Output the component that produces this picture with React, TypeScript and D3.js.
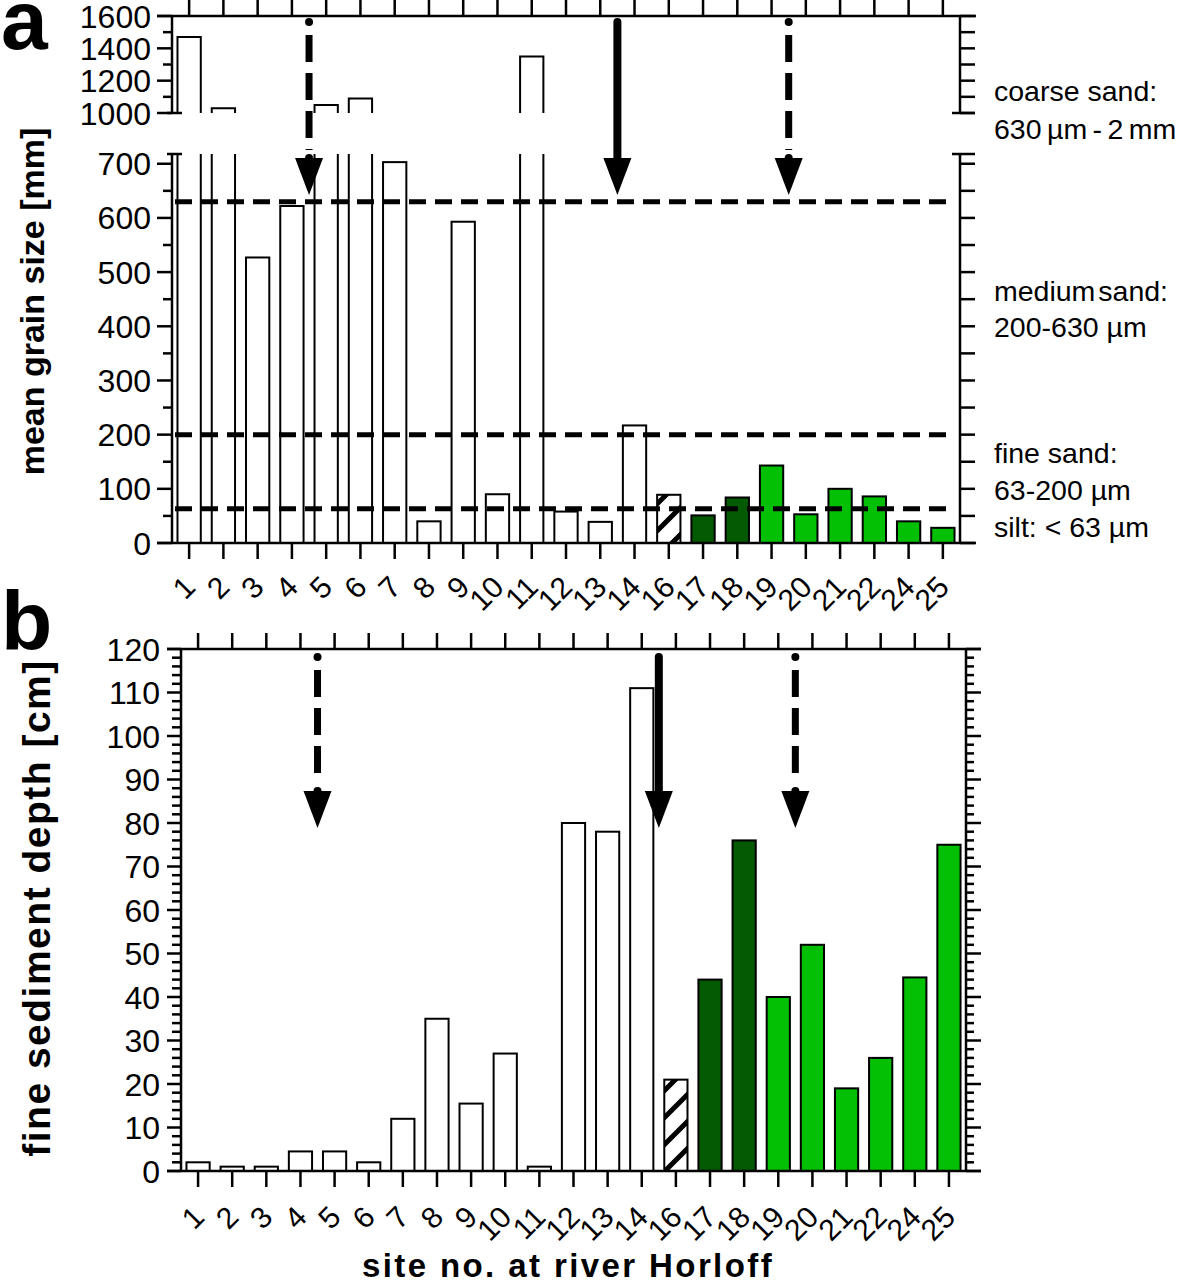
import React from "react";
import * as d3 from "d3";

// ---------------- data ----------------
const sites = ["1","2","3","4","5","6","7","8","9","10","11","12","13","14","16","17","18","19","20","21","22","24","25"];
const grainSize = [1470,1030,527,622,1050,1090,703,40,593,90,1350,58,39,217,89,51,84,143,53,100,86,40,28];
const sedimentDepth = [2,1,1,4.5,4.5,2,12,35,15.5,27,1,80,78,111,21,44,76,40,52,19,26,44.5,75];
// w = white, h = hatched, d = dark green, g = green
const siteClass = ["w","w","w","w","w","w","w","w","w","w","w","w","w","w","h","d","d","g","g","g","g","g","g"];
const classFill: Record<string,string> = { w: "#ffffff", h: "url(#hatch)", d: "#035a03", g: "#04c004" };
const grainThresholds = [630, 200, 63];
const grainClassLabels = [
  ["coarse sand:", "630 µm - 2 mm"],
  ["medium sand:", "200-630 µm"],
  ["fine sand:", "63-200 µm", "silt: < 63 µm"],
];
const lowerMajorTicks = [0,100,200,300,400,500,600,700];
const upperMajorTicks = [1000,1200,1400,1600];
const depthMajorTicks = [0,10,20,30,40,50,60,70,80,90,100,110,120];
const arrowsA = [
  { after: "4", style: "dashdot" },
  { after: "13", style: "solid" },
  { after: "19", style: "dashdot" },
];
const arrowsB = [
  { after: "4", style: "dashdot" },
  { after: "14", style: "solid" },
  { after: "19", style: "dashdot" },
];

const FONT = "'Liberation Sans', Arial, sans-serif";
const SW = 2.5;

function Arrow({ x, y0, tip, style }: { x: number; y0: number; tip: number; style: string }) {
  const headH = 37, headW = 14;
  const headTop = tip - headH;
  return (
    <g>
      {style === "solid" ? (
        <line x1={x} x2={x} y1={y0} y2={headTop + 5} stroke="#000" strokeWidth={8} strokeLinecap="round" />
      ) : (
        <g>
          <circle cx={x} cy={y0} r={4} fill="#000" />
          <line x1={x} x2={x} y1={y0 + 13} y2={headTop - 8} stroke="#000" strokeWidth={7} strokeDasharray="27 11" />
          <circle cx={x} cy={headTop} r={4} fill="#000" />
        </g>
      )}
      <path d={`M${x - headW},${headTop} L${x + headW},${headTop} L${x},${tip} Z`} fill="#000" />
    </g>
  );
}

function xLabel(x: number, y: number, text: string, key: string) {
  return (
    <text key={key} x={0} y={0} transform={`translate(${x},${y}) rotate(-45)`} textAnchor="end"
      fontFamily={FONT} fontSize={30} fill="#000">{text}</text>
  );
}

export default function App() {
  // ---------- panel a ----------
  const aL = 172, aR = 960, aT = 16, aB = 543;
  const xA = d3.scaleBand<string>().domain(sites).range([aL, aR]).paddingInner(0.32).paddingOuter(0.16);
  const yLow = d3.scaleLinear().domain([0, 718]).range([aB, 154]);
  const yUp = d3.scaleLinear().domain([1000, 1600]).range([113, aT]);
  const lowMax = 718;
  const bwA = xA.bandwidth();

  // ---------- panel b ----------
  const bL = 181, bR = 966, bT = 649, bB = 1171;
  const xB = d3.scaleBand<string>().domain(sites).range([bL, bR]).paddingInner(0.32).paddingOuter(0.16);
  const yB = d3.scaleLinear().domain([0, 120]).range([bB, bT]);
  const bwB = xB.bandwidth();

  const lowMinor = d3.range(50, 700, 100);
  const lowRight = d3.range(0, 701, 50);
  const upMinor = [1100, 1300, 1500];
  const upRight = d3.range(1000, 1601, 100);
  const depthMinor = d3.range(0, 121, 2).filter((v) => v % 10 !== 0);

  const midAfter = (sc: d3.ScaleBand<string>, s: string) => {
    const i = sites.indexOf(s);
    return ((sc(sites[i])! + sc(sites[i + 1])!) / 2) + sc.bandwidth() / 2;
  };

  return (
    <svg width={1180} height={1284} style={{ display: "block", position: "absolute", left: 0, top: 0 }}
      xmlns="http://www.w3.org/2000/svg">
      <defs>
        <pattern id="hatch" patternUnits="userSpaceOnUse" width={27} height={27}>
          <rect width={27} height={27} fill="#fff" />
          <path d="M-7,7 L7,-7 M0,27 L27,0 M20,34 L34,20" stroke="#000" strokeWidth={5} />
        </pattern>
      </defs>
      <rect width={1180} height={1284} fill="#fff" />

      {/* ===================== PANEL A ===================== */}
      <text x={1} y={49} fontFamily={FONT} fontWeight="bold" fontSize={84} fill="#000">a</text>

      {/* bars */}
      {sites.map((s, i) => {
        const v = grainSize[i];
        const x0 = xA(s)!, x1 = x0 + bwA;
        const fill = classFill[siteClass[i]];
        if (v <= lowMax) {
          return (
            <rect key={"ba" + s} x={x0} y={yLow(v)} width={bwA} height={yLow(0) - yLow(v)}
              fill={fill} stroke="#000" strokeWidth={2} />
          );
        }
        return (
          <g key={"ba" + s}>
            <path d={`M${x0},${yLow(0)} L${x0},${yLow(lowMax)} M${x1},${yLow(lowMax)} L${x1},${yLow(0)}`}
              fill="none" stroke="#000" strokeWidth={2} />
            <path d={`M${x0},${yUp(1000)} L${x0},${yUp(v)} L${x1},${yUp(v)} L${x1},${yUp(1000)}`}
              fill="#fff" stroke="#000" strokeWidth={2} />
          </g>
        );
      })}

      {/* threshold lines */}
      {grainThresholds.map((t) => (
        <line key={"th" + t} x1={aL + 3} x2={aR - 8} y1={yLow(t)} y2={yLow(t)} stroke="#000"
          strokeWidth={5} strokeDasharray="17 9" />
      ))}

      {/* axes a */}
      <g stroke="#000" strokeWidth={SW} fill="none">
        <line x1={aL - 15} x2={aR + 16} y1={aT} y2={aT} />
        <line x1={aL - 15} x2={aR + 16} y1={aB} y2={aB} />
        <line x1={aL} x2={aL} y1={aT} y2={yUp(1000)} />
        <line x1={aL} x2={aL} y1={yLow(lowMax)} y2={aB} />
        <line x1={aL - 5} x2={aL + 10} y1={yUp(1000)} y2={yUp(1000)} />
        <line x1={aL - 5} x2={aL + 10} y1={yLow(lowMax)} y2={yLow(lowMax)} />
        {upperMajorTicks.map((t) => <line key={"ulm" + t} x1={aL - 15} x2={aL} y1={yUp(t)} y2={yUp(t)} />)}
        {upMinor.map((t) => <line key={"ulmi" + t} x1={aL - 9} x2={aL} y1={yUp(t)} y2={yUp(t)} />)}
        {lowerMajorTicks.map((t) => <line key={"llm" + t} x1={aL - 15} x2={aL} y1={yLow(t)} y2={yLow(t)} />)}
        {lowMinor.map((t) => <line key={"llmi" + t} x1={aL - 9} x2={aL} y1={yLow(t)} y2={yLow(t)} />)}
        <line x1={aR} x2={aR} y1={aT} y2={yUp(1000)} />
        <line x1={aR} x2={aR} y1={yLow(lowMax)} y2={aB} />
        <line x1={aR - 8} x2={aR + 15} y1={yUp(1000)} y2={yUp(1000)} />
        <line x1={aR - 8} x2={aR + 15} y1={yLow(lowMax)} y2={yLow(lowMax)} />
        {upRight.map((t) => <line key={"ur" + t} x1={aR} x2={aR + 15} y1={yUp(t)} y2={yUp(t)} />)}
        {lowRight.map((t) => <line key={"lr" + t} x1={aR} x2={aR + 15} y1={yLow(t)} y2={yLow(t)} />)}
        {sites.map((s) => {
          const c = xA(s)! + bwA / 2;
          return (
            <g key={"tka" + s}>
              <line x1={c} x2={c} y1={aT} y2={0} />
              <line x1={c} x2={c} y1={aB} y2={aB + 16} />
            </g>
          );
        })}
      </g>

      {/* tick labels a */}
      <g fontFamily={FONT} fontSize={32} fill="#000" textAnchor="end">
        {upperMajorTicks.map((t) => <text key={"ulab" + t} x={aL - 21} y={yUp(t)} dy="0.36em">{t}</text>)}
        {lowerMajorTicks.map((t) => <text key={"llab" + t} x={aL - 21} y={yLow(t)} dy="0.36em">{t}</text>)}
      </g>
      {sites.map((s) => xLabel(xA(s)! + bwA / 2 + 8, aB + 46, s, "xla" + s))}

      <text transform={`translate(44,${(yLow(0) + yUp(1600)) / 2 + 22}) rotate(-90)`} textAnchor="middle"
        fontFamily={FONT} fontWeight="bold" fontSize={34} fill="#000">mean grain size [mm]</text>

      {/* class labels right */}
      <g fontFamily={FONT} fontSize={28.5} fill="#000">
        <text x={994} y={101}>{grainClassLabels[0][0]}</text>
        <text x={994} y={139} wordSpacing={-2.5}>{grainClassLabels[0][1]}</text>
        <text x={994} y={301} wordSpacing={-5}>{grainClassLabels[1][0]}</text>
        <text x={994} y={337}>{grainClassLabels[1][1]}</text>
        <text x={994} y={463}>{grainClassLabels[2][0]}</text>
        <text x={994} y={500}>{grainClassLabels[2][1]}</text>
        <text x={994} y={537}>{grainClassLabels[2][2]}</text>
      </g>

      {arrowsA.map((a) => (
        <Arrow key={"aa" + a.after} x={midAfter(xA, a.after)} y0={22} tip={195} style={a.style} />
      ))}

      {/* ===================== PANEL B ===================== */}
      <text x={1} y={650} fontFamily={FONT} fontWeight="bold" fontSize={84} fill="#000">b</text>

      {sites.map((s, i) => (
        <rect key={"bb" + s} x={xB(s)!} y={yB(sedimentDepth[i])} width={bwB}
          height={yB(0) - yB(sedimentDepth[i])} fill={classFill[siteClass[i]]} stroke="#000" strokeWidth={2} />
      ))}

      <g stroke="#000" strokeWidth={SW} fill="none">
        <line x1={bL - 14} x2={bR + 15} y1={bT} y2={bT} />
        <line x1={bL - 14} x2={bR + 15} y1={bB} y2={bB} />
        <line x1={bL} x2={bL} y1={bT} y2={bB} />
        <line x1={bR} x2={bR} y1={bT} y2={bB} />
        {depthMajorTicks.map((t) => (
          <g key={"dm" + t}>
            <line x1={bL - 14} x2={bL} y1={yB(t)} y2={yB(t)} />
            <line x1={bR} x2={bR + 15} y1={yB(t)} y2={yB(t)} />
          </g>
        ))}
        {depthMinor.map((t) => (
          <g key={"dmi" + t}>
            <line x1={bL - 9} x2={bL} y1={yB(t)} y2={yB(t)} />
            <line x1={bR} x2={bR + 8} y1={yB(t)} y2={yB(t)} />
          </g>
        ))}
        {sites.map((s) => {
          const c = xB(s)! + bwB / 2;
          return (
            <g key={"tkb" + s}>
              <line x1={c} x2={c} y1={bT} y2={bT - 16} />
              <line x1={c} x2={c} y1={bB} y2={bB + 16} />
            </g>
          );
        })}
      </g>

      <g fontFamily={FONT} fontSize={32} fill="#000" textAnchor="end">
        {depthMajorTicks.map((t) => <text key={"dlab" + t} x={bL - 21} y={yB(t)} dy="0.36em">{t}</text>)}
      </g>
      {sites.map((s) => xLabel(xB(s)! + bwB / 2 + 8, bB + 48, s, "xlb" + s))}

      <text transform={`translate(50,${(yB(0) + yB(120)) / 2 - 2}) rotate(-90)`} textAnchor="middle"
        fontFamily={FONT} fontWeight="bold" fontSize={39} letterSpacing={1.5} fill="#000">fine sediment depth [cm]</text>

      <text x={568} y={1277} textAnchor="middle" fontFamily={FONT} fontWeight="bold" fontSize={33}
        letterSpacing={2.4} fill="#000">site no. at river Horloff</text>

      {arrowsB.map((a) => (
        <Arrow key={"ab" + a.after} x={midAfter(xB, a.after)} y0={657} tip={828} style={a.style} />
      ))}
    </svg>
  );
}
